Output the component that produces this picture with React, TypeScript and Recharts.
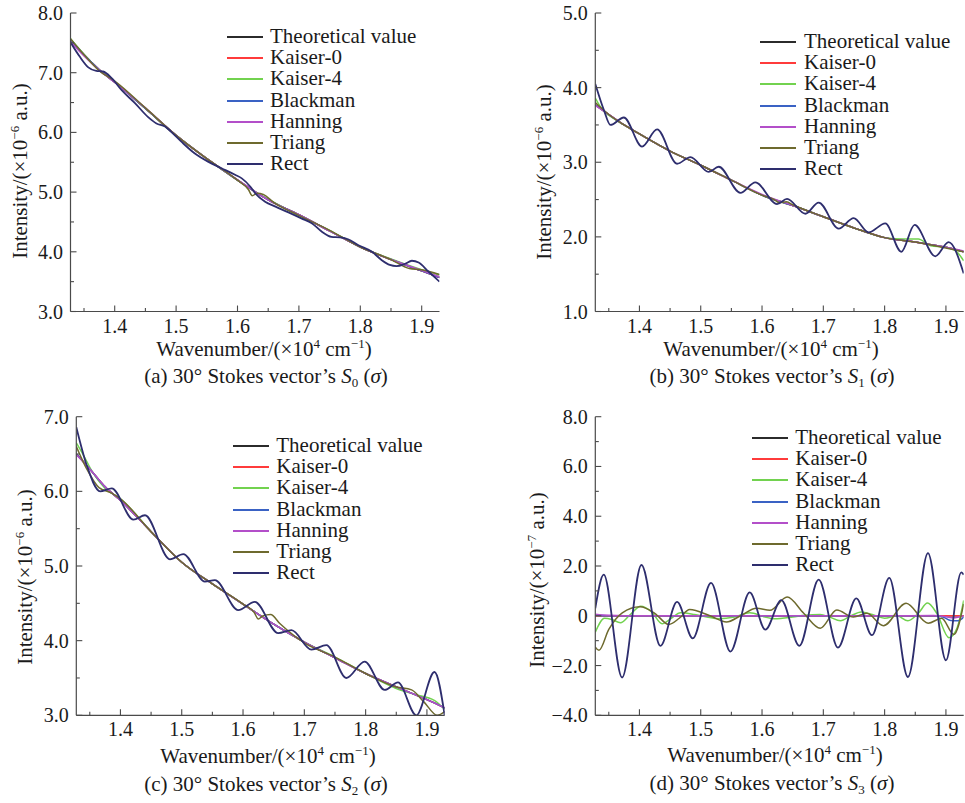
import React from 'react';
import { LineChart, Line, XAxis, YAxis, Legend } from 'recharts';

const FONT = '"Liberation Serif", "Times New Roman", Times, serif';
const TEXT = '#1a1a1a';
const FRAME = '#4a4a4a';

// ---------- shared ----------
const seriesNames = ['Theoretical value', 'Kaiser-0', 'Kaiser-4', 'Blackman', 'Hanning', 'Triang', 'Rect'];
const seriesColors = ['#2b2b2b', '#ff3b3b', '#72d24f', '#3a62c4', '#b34fc9', '#6e6a2e', '#2e2e6e'];
const xDomain: [number, number] = [1.328, 1.929];
const xTicks = [1.35, 1.4, 1.45, 1.5, 1.55, 1.6, 1.65, 1.7, 1.75, 1.8, 1.85, 1.9];
const xSmooth = [1.328, 1.35, 1.375, 1.4, 1.45, 1.5, 1.55, 1.6, 1.65, 1.7, 1.75, 1.8, 1.85, 1.9, 1.929];

// ---------- (a) S0 ----------
const s0YTicks = [3, 3.5, 4, 4.5, 5, 5.5, 6, 6.5, 7, 7.5, 8];
const s0Theory = [7.55, 7.30, 7.05, 6.84, 6.40, 5.95, 5.56, 5.20, 4.87, 4.62, 4.35, 4.08, 3.87, 3.68, 3.57];
const s0Kaiser0 = [7.55, 7.30, 7.05, 6.84, 6.40, 5.95, 5.56, 5.20, 4.87, 4.62, 4.35, 4.08, 3.87, 3.68, 3.57];
const s0Kaiser4 = [7.57, 7.31, 7.04, 6.85, 6.40, 5.95, 5.56, 5.20, 4.88, 4.61, 4.36, 4.08, 3.88, 3.70, 3.61];
const s0Blackman = [7.55, 7.30, 7.05, 6.84, 6.40, 5.95, 5.56, 5.20, 4.87, 4.62, 4.35, 4.08, 3.87, 3.68, 3.57];
const s0Hanning = [7.52, 7.28, 7.04, 6.84, 6.41, 5.95, 5.56, 5.21, 4.87, 4.62, 4.35, 4.08, 3.87, 3.69, 3.58];
const s0TriangX = [1.328, 1.35, 1.375, 1.4, 1.45, 1.5, 1.55, 1.6, 1.618, 1.624, 1.632, 1.642, 1.66, 1.7, 1.75, 1.8, 1.85, 1.88, 1.9, 1.929];
const s0Triang = [7.57, 7.30, 7.03, 6.86, 6.41, 5.95, 5.56, 5.20, 5.04, 4.94, 4.98, 4.96, 4.82, 4.61, 4.36, 4.08, 3.87, 3.72, 3.70, 3.62];
const s0RectX = [1.328, 1.343, 1.357, 1.370, 1.381, 1.395, 1.411, 1.433, 1.454, 1.468, 1.482, 1.492, 1.509, 1.530, 1.552, 1.574, 1.596, 1.607, 1.621, 1.629, 1.645, 1.661, 1.683, 1.704, 1.721, 1.737, 1.753, 1.767, 1.780, 1.797, 1.819, 1.835, 1.848, 1.859, 1.873, 1.884, 1.895, 1.911, 1.929];
const s0Rect = [7.51, 7.27, 7.09, 7.03, 7.02, 6.91, 6.71, 6.49, 6.26, 6.15, 6.10, 6.01, 5.84, 5.65, 5.51, 5.40, 5.29, 5.23, 5.09, 4.98, 4.84, 4.76, 4.66, 4.56, 4.48, 4.34, 4.25, 4.24, 4.21, 4.11, 4.00, 3.86, 3.78, 3.76, 3.80, 3.85, 3.82, 3.67, 3.50];

// ---------- (b) S1 ----------
const s1YTicks = [1, 1.5, 2, 2.5, 3, 3.5, 4, 4.5, 5];
const s1Theory = [3.77, 3.64, 3.50, 3.38, 3.15, 2.96, 2.76, 2.56, 2.42, 2.27, 2.12, 1.99, 1.93, 1.86, 1.80];
const s1Kaiser0 = [3.77, 3.64, 3.50, 3.38, 3.15, 2.96, 2.76, 2.56, 2.42, 2.27, 2.12, 1.99, 1.93, 1.86, 1.80];
const s1Kaiser4X = [1.328, 1.34, 1.35, 1.375, 1.4, 1.45, 1.5, 1.55, 1.6, 1.65, 1.7, 1.75, 1.8, 1.83, 1.855, 1.875, 1.9, 1.915, 1.929];
const s1Kaiser4 = [3.86, 3.70, 3.63, 3.50, 3.38, 3.15, 2.96, 2.76, 2.56, 2.42, 2.27, 2.12, 1.99, 1.97, 1.97, 1.88, 1.86, 1.82, 1.68];
const s1Blackman = [3.77, 3.64, 3.50, 3.38, 3.15, 2.96, 2.76, 2.56, 2.42, 2.27, 2.12, 1.99, 1.93, 1.86, 1.80];
const s1Hanning = [3.76, 3.64, 3.50, 3.38, 3.15, 2.96, 2.76, 2.57, 2.42, 2.27, 2.12, 1.99, 1.93, 1.86, 1.81];
const s1TriangX = [1.328, 1.35, 1.375, 1.4, 1.45, 1.5, 1.55, 1.6, 1.62, 1.628, 1.64, 1.65, 1.7, 1.75, 1.8, 1.85, 1.9, 1.929];
const s1Triang = [3.80, 3.64, 3.50, 3.38, 3.15, 2.96, 2.76, 2.56, 2.50, 2.46, 2.47, 2.43, 2.27, 2.12, 1.99, 1.93, 1.85, 1.80];
const s1RectX = [1.328, 1.342, 1.3527, 1.3745, 1.4043, 1.4288, 1.4614, 1.4832, 1.513, 1.5293, 1.5647, 1.5891, 1.6245, 1.6408, 1.6707, 1.6924, 1.725, 1.7495, 1.7739, 1.8011, 1.8272, 1.8489, 1.8826, 1.9043, 1.929];
const s1Rect = [4.05, 3.70, 3.50, 3.60, 3.21, 3.44, 2.98, 3.07, 2.87, 2.94, 2.59, 2.73, 2.44, 2.51, 2.31, 2.46, 2.11, 2.25, 2.06, 2.18, 1.80, 2.16, 1.74, 1.93, 1.51];

// ---------- (c) S2 ----------
const s2YTicks = [3, 3.5, 4, 4.5, 5, 5.5, 6, 6.5, 7];
const s2Theory = [6.50, 6.30, 6.06, 5.88, 5.46, 5.05, 4.76, 4.49, 4.22, 3.98, 3.77, 3.56, 3.38, 3.21, 3.10];
const s2Kaiser0 = [6.50, 6.30, 6.06, 5.88, 5.46, 5.05, 4.76, 4.49, 4.22, 3.98, 3.77, 3.56, 3.38, 3.21, 3.10];
const s2Kaiser4X = [1.328, 1.34, 1.355, 1.375, 1.4, 1.45, 1.5, 1.55, 1.6, 1.65, 1.7, 1.75, 1.8, 1.85, 1.88, 1.912, 1.929];
const s2Kaiser4 = [6.65, 6.48, 6.25, 6.04, 5.90, 5.46, 5.05, 4.76, 4.49, 4.22, 3.98, 3.78, 3.56, 3.36, 3.28, 3.20, 3.08];
const s2Blackman = [6.50, 6.30, 6.06, 5.88, 5.46, 5.05, 4.76, 4.49, 4.22, 3.98, 3.77, 3.56, 3.38, 3.21, 3.10];
const s2Hanning = [6.49, 6.30, 6.06, 5.88, 5.46, 5.05, 4.76, 4.49, 4.22, 3.98, 3.77, 3.56, 3.38, 3.21, 3.10];
const s2TriangX = [1.328, 1.345, 1.365, 1.385, 1.4, 1.45, 1.5, 1.55, 1.6, 1.618, 1.625, 1.632, 1.645, 1.66, 1.7, 1.75, 1.8, 1.85, 1.875, 1.895, 1.917, 1.929];
const s2Triang = [6.60, 6.30, 6.05, 5.98, 5.90, 5.46, 5.05, 4.76, 4.49, 4.38, 4.29, 4.33, 4.35, 4.23, 3.97, 3.78, 3.56, 3.38, 3.34, 3.18, 3.00, 3.05];
const s2RectX = [1.328, 1.345, 1.3668, 1.3858, 1.4212, 1.44, 1.4808, 1.5026, 1.5378, 1.554, 1.5922, 1.6192, 1.6573, 1.679, 1.7116, 1.736, 1.7686, 1.7984, 1.831, 1.8528, 1.8826, 1.9124, 1.929];
const s2Rect = [6.86, 6.35, 6.00, 6.04, 5.62, 5.68, 5.09, 5.16, 4.79, 4.81, 4.41, 4.52, 4.10, 4.14, 3.88, 3.94, 3.50, 3.72, 3.34, 3.44, 3.00, 3.58, 3.00];

// ---------- (d) S3 ----------
const s3YTicks = [-4, -3, -2, -1, 0, 1, 2, 3, 4, 5, 6, 7, 8];
const s3Theory = [0, 0, 0, 0, 0, 0, 0, 0, 0, 0, 0, 0, 0, 0, 0];
const s3Kaiser0 = [0, 0, 0, 0, 0, 0, 0, 0, 0, 0, 0, 0, 0, 0, 0];
const s3Kaiser4X = [1.328, 1.343, 1.355, 1.369, 1.385, 1.402, 1.42, 1.437, 1.452, 1.467, 1.49, 1.51, 1.53, 1.555, 1.58, 1.605, 1.62, 1.65, 1.67, 1.695, 1.71, 1.728, 1.745, 1.762, 1.78, 1.80, 1.82, 1.838, 1.855, 1.87, 1.885, 1.905, 1.918, 1.929];
const s3Kaiser4 = [-0.66, -0.10, -0.15, -0.28, 0.05, 0.38, 0.15, -0.32, -0.10, 0.12, 0.05, -0.05, -0.12, -0.05, 0.12, -0.05, -0.12, -0.05, 0.02, 0.05, -0.05, -0.20, 0.00, 0.15, 0.05, -0.10, 0.00, -0.20, 0.10, 0.51, 0.10, -0.88, -0.50, 0.62];
const s3BlackmanX = [1.328, 1.35, 1.4, 1.5, 1.6, 1.7, 1.8, 1.88, 1.895, 1.908, 1.92, 1.929];
const s3Blackman = [0.02, 0, 0, 0, 0, 0, 0, 0, -0.05, -0.19, -0.2, -0.05];
const s3HanningX = [1.328, 1.35, 1.4, 1.5, 1.6, 1.7, 1.8, 1.88, 1.9, 1.912, 1.929];
const s3Hanning = [0.06, 0.02, 0, 0, 0, 0, 0, 0.01, -0.04, -0.08, 0.0];
const s3TriangX = [1.328, 1.334, 1.35, 1.372, 1.401, 1.425, 1.448, 1.465, 1.482, 1.515, 1.542, 1.565, 1.591, 1.613, 1.641, 1.668, 1.695, 1.722, 1.749, 1.771, 1.798, 1.835, 1.871, 1.893, 1.913, 1.929];
const s3Triang = [-1.26, -1.39, -0.55, 0.12, 0.36, 0.10, -0.35, -0.10, 0.25, 0.00, -0.25, 0.00, 0.30, 0.22, 0.75, 0.10, -0.50, 0.23, -0.05, 0.10, -0.40, 0.50, -0.30, -0.10, -0.75, 0.48];
const s3RectX = [1.328, 1.3418, 1.3717, 1.4033, 1.4342, 1.4614, 1.487, 1.5168, 1.5484, 1.5799, 1.6054, 1.6315, 1.6609, 1.6924, 1.7239, 1.7538, 1.7793, 1.8076, 1.838, 1.8707, 1.90, 1.925, 1.929];
const s3Rect = [0.30, 1.65, -2.48, 2.04, -1.21, 0.56, -0.91, 1.32, -1.44, 0.94, -0.56, 0.63, -1.21, 1.45, -1.28, 0.70, -0.78, 1.52, -2.46, 2.52, -1.79, 1.74, 1.65];

// ---------- helpers ----------
type Pt = { x: number; y: number };
const toPts = (xs: number[], ys: number[]): Pt[] => xs.map((x, i) => ({ x, y: ys[i] }));

interface Panel {
  key: string;
  letter: string;
  sub: string;
  exp: string;
  left: number; top: number; w: number; h: number;
  pl: number; pt: number; pr: number; pb: number;
  yDomain: [number, number];
  yTicks: number[];
  yMajor: (v: number) => boolean;
  yFmt: (v: number) => string;
  yLab: [number, number];
  xLab: [number, number];
  title: [number, number];
  legend: [number, number];
  legendText: number;
  series: Pt[][];
}

const fmt1 = (v: number) => v.toFixed(1);
const fmtSigned = (v: number) => (Math.abs(v) < 1e-9 ? '0' : v < 0 ? '\u2212' + Math.abs(v).toFixed(1) : v.toFixed(1));
const isInt = (v: number) => Math.abs(v - Math.round(v)) < 1e-9;
const isEven = (v: number) => isInt(v) && Math.round(v) % 2 === 0;

const panels: Panel[] = [
  {
    key: 'a', letter: 'a', sub: '0', exp: '\u22126',
    left: 0, top: 0, w: 480, h: 400,
    pl: 70.5, pt: 13, pr: 439.5, pb: 311.5,
    yDomain: [3, 8], yTicks: s0YTicks, yMajor: isInt, yFmt: fmt1,
    yLab: [20, 171], xLab: [264, 356], title: [266, 383],
    legend: [227, 26], legendText: 43,
    series: [
      toPts(xSmooth, s0Theory), toPts(xSmooth, s0Kaiser0), toPts(xSmooth, s0Kaiser4),
      toPts(xSmooth, s0Blackman), toPts(xSmooth, s0Hanning), toPts(s0TriangX, s0Triang), toPts(s0RectX, s0Rect),
    ],
  },
  {
    key: 'b', letter: 'b', sub: '1', exp: '\u22126',
    left: 480, top: 0, w: 485, h: 400,
    pl: 115.3, pt: 13, pr: 483.7, pb: 311.5,
    yDomain: [1, 5], yTicks: s1YTicks, yMajor: isInt, yFmt: fmt1,
    yLab: [64, 172], xLab: [291, 356], title: [292, 383],
    legend: [280, 31], legendText: 44,
    series: [
      toPts(xSmooth, s1Theory), toPts(xSmooth, s1Kaiser0), toPts(s1Kaiser4X, s1Kaiser4),
      toPts(xSmooth, s1Blackman), toPts(xSmooth, s1Hanning), toPts(s1TriangX, s1Triang), toPts(s1RectX, s1Rect),
    ],
  },
  {
    key: 'c', letter: 'c', sub: '2', exp: '\u22126',
    left: 0, top: 400, w: 480, h: 403,
    pl: 76.3, pt: 16.7, pr: 444.7, pb: 315.3,
    yDomain: [3, 7], yTicks: s2YTicks, yMajor: isInt, yFmt: fmt1,
    yLab: [25, 177], xLab: [268, 362.5], title: [266, 390.5],
    legend: [233, 35], legendText: 43.3,
    series: [
      toPts(xSmooth, s2Theory), toPts(xSmooth, s2Kaiser0), toPts(s2Kaiser4X, s2Kaiser4),
      toPts(xSmooth, s2Blackman), toPts(xSmooth, s2Hanning), toPts(s2TriangX, s2Triang), toPts(s2RectX, s2Rect),
    ],
  },
  {
    key: 'd', letter: 'd', sub: '3', exp: '\u22127',
    left: 480, top: 400, w: 485, h: 403,
    pl: 115.3, pt: 16.7, pr: 483.7, pb: 315.3,
    yDomain: [-4, 8], yTicks: s3YTicks, yMajor: isEven, yFmt: fmtSigned,
    yLab: [57, 180], xLab: [295, 362], title: [292, 390],
    legend: [272, 27], legendText: 43.3,
    series: [
      toPts(xSmooth, s3Theory), toPts(xSmooth, s3Kaiser0), toPts(s3Kaiser4X, s3Kaiser4),
      toPts(s3BlackmanX, s3Blackman), toPts(s3HanningX, s3Hanning), toPts(s3TriangX, s3Triang), toPts(s3RectX, s3Rect),
    ],
  },
];

const isXMajor = (v: number) => Math.abs(v * 10 - Math.round(v * 10)) < 1e-6;

const BottomTick = (props: any) => {
  const { x, y, payload } = props;
  const v = payload.value as number;
  const m = isXMajor(v);
  return (
    <g>
      <line x1={x} x2={x} y1={y} y2={y - (m ? 6 : 3.5)} stroke={FRAME} strokeWidth={1.1} />
      {m && (
        <text x={x} y={y + 21} textAnchor="middle" fontSize={20} fontFamily={FONT} fill={TEXT}>
          {v.toFixed(1)}
        </text>
      )}
    </g>
  );
};

const TopTick = (props: any) => {
  const { x, y, payload } = props;
  const m = isXMajor(payload.value);
  return <line x1={x} x2={x} y1={y} y2={y + (m ? 6 : 3.5)} stroke={FRAME} strokeWidth={1.1} />;
};

const makeLeftTick = (major: (v: number) => boolean, fmt: (v: number) => string) => (props: any) => {
  const { x, y, payload } = props;
  const v = payload.value as number;
  const m = major(v);
  return (
    <g>
      <line x1={x} x2={x + (m ? 6 : 3.5)} y1={y} y2={y} stroke={FRAME} strokeWidth={1.1} />
      {m && (
        <text x={x - 7.5} y={y + 7} textAnchor="end" fontSize={20} fontFamily={FONT} fill={TEXT}>
          {fmt(v)}
        </text>
      )}
    </g>
  );
};

const makeRightTick = (major: (v: number) => boolean) => (props: any) => {
  const { x, y, payload } = props;
  const m = major(payload.value);
  return <line x1={x} x2={x - (m ? 6 : 3.5)} y1={y} y2={y} stroke={FRAME} strokeWidth={1.1} />;
};

const ROW = 21.2;
const LegendBox = ({ textLeft }: { textLeft: number }) => (
  <div style={{ position: 'relative', fontFamily: FONT, fontSize: 21, color: TEXT, whiteSpace: 'nowrap', width: 230, height: ROW * 7 }}>
    {seriesNames.map((n, i) => (
      <React.Fragment key={n}>
        <div
          style={{
            position: 'absolute',
            left: 0,
            top: Math.round(i * ROW + 11) - 1,
            width: 36,
            height: 2,
            background: seriesColors[i],
          }}
        />
        <div style={{ position: 'absolute', left: textLeft, top: i * ROW, height: ROW, lineHeight: `${ROW}px` }}>{n}</div>
      </React.Fragment>
    ))}
  </div>
);

const PanelChart = ({ p }: { p: Panel }) => {
  const LeftTick = makeLeftTick(p.yMajor, p.yFmt);
  const RightTick = makeRightTick(p.yMajor);
  const yLabel = () => (
    <text
      transform={`translate(${p.yLab[0]},${p.yLab[1]}) rotate(-90)`}
      x={0}
      y={7}
      textAnchor="middle"
      fontSize={21}
      fontFamily={FONT}
      fill={TEXT}
    >
      Intensity/(×10
      <tspan dy={-8} fontSize={13}>{p.exp}</tspan>
      <tspan dy={8}> a.u.)</tspan>
    </text>
  );
  const xLabel = () => (
    <g>
      <text x={p.xLab[0]} y={p.xLab[1]} textAnchor="middle" fontSize={21} fontFamily={FONT} fill={TEXT}>
        Wavenumber/(×10
        <tspan dy={-8} fontSize={13}>4</tspan>
        <tspan dy={8}> cm</tspan>
        <tspan dy={-8} fontSize={13}>{'\u22121'}</tspan>
        <tspan dy={8}>)</tspan>
      </text>
      <text x={p.title[0]} y={p.title[1]} textAnchor="middle" fontSize={21} fontFamily={FONT} fill={TEXT}>
        ({p.letter}) 30° Stokes vector’s{' '}
        <tspan fontStyle="italic">S</tspan>
        <tspan dy={4} fontSize={13}>{p.sub}</tspan>
        <tspan dy={-4}> (</tspan>
        <tspan fontStyle="italic">σ</tspan>
        <tspan>)</tspan>
      </text>
    </g>
  );
  return (
    <div style={{ position: 'absolute', left: p.left, top: p.top, width: p.w, height: p.h }}>
      <LineChart
        width={p.w}
        height={p.h}
        margin={{ top: p.pt, right: p.w - p.pr, bottom: 0, left: 0 }}
      >
        <XAxis
          xAxisId="b"
          type="number"
          dataKey="x"
          domain={xDomain}
          ticks={xTicks}
          interval={0}
          allowDataOverflow
          height={p.h - p.pb}
          tickSize={0}
          tickMargin={0}
          tickLine={false}
          axisLine={{ stroke: FRAME, strokeWidth: 1.2 }}
          tick={BottomTick}
          label={{ content: xLabel }}
        />
        <XAxis
          xAxisId="t"
          orientation="top"
          type="number"
          dataKey="x"
          domain={xDomain}
          ticks={xTicks}
          interval={0}
          allowDataOverflow
          height={0}
          tickSize={0}
          tickMargin={0}
          tickLine={false}
          axisLine={{ stroke: FRAME, strokeWidth: 1.2 }}
          tick={TopTick}
        />
        <YAxis
          yAxisId="l"
          type="number"
          domain={p.yDomain}
          ticks={p.yTicks}
          interval={0}
          allowDataOverflow
          width={p.pl}
          tickSize={0}
          tickMargin={0}
          tickLine={false}
          axisLine={{ stroke: FRAME, strokeWidth: 1.2 }}
          tick={LeftTick}
          label={{ content: yLabel }}
        />
        <YAxis
          yAxisId="r"
          orientation="right"
          type="number"
          domain={p.yDomain}
          ticks={p.yTicks}
          interval={0}
          allowDataOverflow
          width={0}
          tickSize={0}
          tickMargin={0}
          tickLine={false}
          axisLine={{ stroke: FRAME, strokeWidth: 1.2 }}
          tick={RightTick}
        />
        {p.series.map((pts, i) => (
          <Line
            key={seriesNames[i]}
            xAxisId="b"
            yAxisId="l"
            data={pts}
            dataKey="y"
            name={seriesNames[i]}
            type="monotone"
            stroke={seriesColors[i]}
            strokeWidth={i === 6 ? 1.8 : 1.5}
            dot={false}
            activeDot={false}
            isAnimationActive={false}
          />
        ))}
        <Legend
          layout="vertical"
          align="center"
          verticalAlign="middle"
          wrapperStyle={{ left: p.legend[0], top: p.legend[1], width: 230 }}
          content={() => <LegendBox textLeft={p.legendText} />}
        />
      </LineChart>
    </div>
  );
};

export default function App() {
  return (
    <div
      style={{
        position: 'absolute',
        left: 0,
        top: 0,
        width: 965,
        height: 803,
        background: '#ffffff',
        fontFamily: FONT,
        overflow: 'hidden',
      }}
    >
      {panels.map((p) => (
        <PanelChart key={p.key} p={p} />
      ))}
    </div>
  );
}
